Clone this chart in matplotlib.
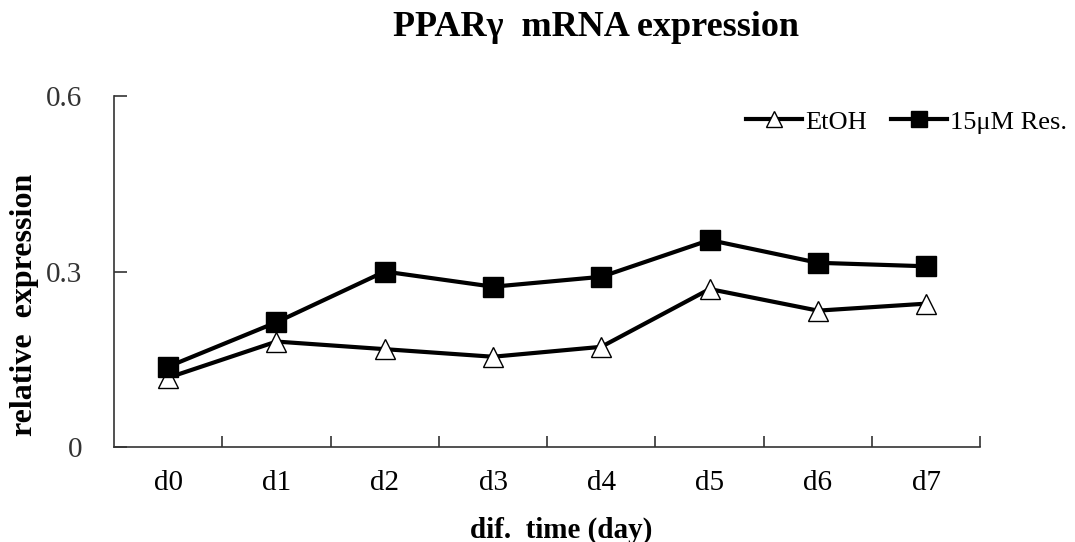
import matplotlib.pyplot as plt
import numpy as np

plt.rcParams['font.family'] = ['Liberation Serif', 'DejaVu Serif']

# data
days = ['d0', 'd1', 'd2', 'd3', 'd4', 'd5', 'd6', 'd7']
etoh = [0.118, 0.180, 0.167, 0.154, 0.171, 0.270, 0.233, 0.245]
res = [0.137, 0.213, 0.300, 0.274, 0.291, 0.354, 0.315, 0.309]
yticks = [0, 0.3, 0.6]
ytick_labels = ['0', '0.3', '0.6']

x = np.arange(len(days))

fig = plt.figure(figsize=(10.75, 5.42), dpi=100)
ax = fig.add_axes([0.106, 0.176, 0.806, 0.646])

ax.plot(x, etoh, color='black', linewidth=3, marker='^', markersize=15,
        markerfacecolor='white', markeredgecolor='black', markeredgewidth=1,
        label='EtOH', zorder=3)
ax.plot(x, res, color='black', linewidth=3, marker='s', markersize=15,
        markerfacecolor='black', markeredgecolor='black',
        label='15\u03bcM Res.', zorder=3)

ax.set_xlim(-0.5, len(days) - 0.5)
ax.set_ylim(0, 0.6)

# spines
ax.spines['top'].set_visible(False)
ax.spines['right'].set_visible(False)
for s in ['left', 'bottom']:
    ax.spines[s].set_linewidth(1.2)
    ax.spines[s].set_color('#333333')

ax.set_xticks(x)
ax.set_xticklabels(days, fontsize=21)
ax.tick_params(axis='x', which='major', length=0, pad=17)
ax.set_xticks(np.arange(0.5, len(days), 1.0), minor=True)
ax.tick_params(axis='x', which='minor', direction='in', length=8, width=1.2, color='#333333')

ax.set_yticks(yticks)
ax.set_yticklabels(ytick_labels, fontsize=21)
ax.tick_params(axis='y', direction='in', length=9, width=1.2, color='#333333', pad=23)
for lab in ax.get_yticklabels():
    lab.set_color('#333333')

ax.set_xlabel('dif.  time (day)', fontsize=21, fontweight='bold')
ax.xaxis.set_label_coords(0.516, -0.238)
ax.xaxis.label.set_va('center')
ax.set_ylabel('relative  expression', fontsize=23, fontweight='bold')
ax.yaxis.set_label_coords(-0.103, 0.405)
ax.yaxis.label.set_va('center')

fig.text(0.554, 0.95, 'PPAR\u03b3  mRNA expression', ha='center', va='center',
         fontsize=26, fontweight='bold')

ax.legend(loc='center right', bbox_to_anchor=(0.993, 0.775), bbox_transform=fig.transFigure,
          ncol=2, frameon=False, fontsize=19, handlelength=2.1, handletextpad=0.15,
          columnspacing=0.9, markerscale=0.75, borderpad=0, borderaxespad=0)

fig.savefig('out.png', dpi=100)
